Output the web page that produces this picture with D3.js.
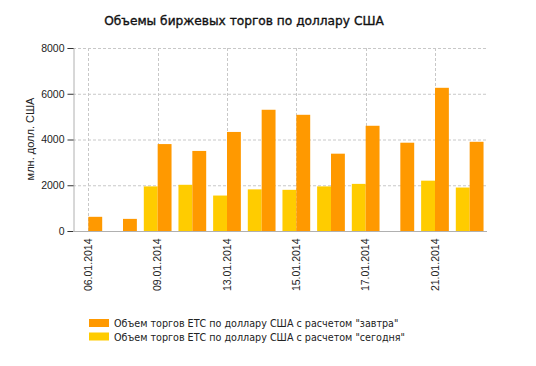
<!DOCTYPE html>
<html>
<head>
<meta charset="utf-8">
<script src="https://cdn.jsdelivr.net/npm/d3@7"></script>
<style>
  body { margin: 0; background: #fff; }
  svg { display: block; }
</style>
</head>
<body>
<svg id="chart" width="536" height="366"></svg>
<script>
// Data
const dates = ["06.01.2014", "08.01.2014", "09.01.2014", "10.01.2014", "13.01.2014", "14.01.2014",
               "15.01.2014", "16.01.2014", "17.01.2014", "20.01.2014", "21.01.2014", "22.01.2014"];
const tomorrow = [620, 530, 3800, 3500, 4330, 5300, 5080, 3380, 4600, 3860, 6260, 3900];
const today = [0, 0, 1950, 2020, 1550, 1820, 1800, 1950, 2060, 0, 2200, 1900];
const yTicks = [0, 2000, 4000, 6000, 8000];
const seriesNames = ["Объем торгов ЕТС по доллару США с расчетом \"завтра\"",
                     "Объем торгов ЕТС по доллару США с расчетом \"сегодня\""];

const orange = "#ff9900";
const yellow = "#ffcc00";

var svg = d3.select("#chart");

var x = d3.scaleBand().domain(dates).range([71, 487]).paddingInner(0.2).paddingOuter(0.1);
var y = d3.scaleLinear().domain([0, 8000]).range([231, 48]);
var half = x.bandwidth() / 2;

// title
svg.append("text")
  .attr("x", 244).attr("y", 25)
  .attr("text-anchor", "middle")
  .style("font-family", "DejaVu Sans").style("font-size", "12.2px")
  .attr("fill", "#111").attr("stroke", "#111").attr("stroke-width", 0.35)
  .text("Объемы биржевых торгов по доллару США");

// grid
svg.append("g").selectAll("line")
  .data(yTicks.slice(1))
  .enter().append("line")
  .attr("x1", 73).attr("x2", 487)
  .attr("y1", d => y(d) + 0.5).attr("y2", d => y(d) + 0.5)
  .attr("stroke", "#c8c8c8").attr("stroke-dasharray", "3,2");

svg.append("g").selectAll("line")
  .data(dates.filter((d, i) => i % 2 == 0))
  .enter().append("line")
  .attr("x1", d => Math.round(x(d) + half) + 0.5).attr("x2", d => Math.round(x(d) + half) + 0.5)
  .attr("y1", 48).attr("y2", 231)
  .attr("stroke", "#c8c8c8").attr("stroke-dasharray", "3,2");

// bars
svg.append("g").selectAll("rect")
  .data(today)
  .enter().append("rect")
  .attr("x", (d, i) => x(dates[i]))
  .attr("width", half)
  .attr("y", d => y(d))
  .attr("height", d => y(0) - y(d))
  .attr("fill", yellow);

svg.append("g").selectAll("rect")
  .data(tomorrow)
  .enter().append("rect")
  .attr("x", (d, i) => x(dates[i]) + half)
  .attr("width", half)
  .attr("y", d => y(d))
  .attr("height", d => y(0) - y(d))
  .attr("fill", orange);

// y axis
var yAxis = svg.append("g")
  .attr("transform", "translate(73.5,0)")
  .call(d3.axisLeft(y).tickValues(yTicks).tickSize(6).tickPadding(3).tickFormat(d3.format("d")));
yAxis.select(".domain").attr("stroke", "#b0b0b0");
yAxis.selectAll(".tick line").attr("stroke", "#333");
yAxis.selectAll("text")
  .style("font-family", "Liberation Sans").style("font-size", "10.5px").attr("fill", "#222");

// x axis
var xAxis = svg.append("g")
  .attr("transform", "translate(0,231.5)")
  .call(d3.axisBottom(x).tickSize(0).tickFormat((d, i) => i % 2 == 0 ? d : ""));
xAxis.select(".domain").attr("stroke", "#b0b0b0").attr("d", "M73,0H487");
xAxis.selectAll("text")
  .style("font-family", "Liberation Sans").style("font-size", "10.5px").attr("fill", "#222")
  .attr("transform", "rotate(-90)")
  .attr("text-anchor", "end")
  .attr("x", -7).attr("y", 0).attr("dy", "0.35em");

// y label
svg.append("text")
  .attr("transform", "translate(34,139) rotate(-90)")
  .attr("text-anchor", "middle")
  .style("font-family", "Liberation Sans").style("font-size", "11px").attr("fill", "#222")
  .text("млн. долл. США");

// legend
var legend = svg.append("g").selectAll("g")
  .data(seriesNames)
  .enter().append("g")
  .attr("transform", (d, i) => `translate(89,${319 + i * 13.5})`);
legend.append("rect")
  .attr("width", 20).attr("height", 8)
  .attr("fill", (d, i) => i == 0 ? orange : yellow);
legend.append("text")
  .attr("x", 25).attr("y", 8)
  .style("font-family", "DejaVu Sans").style("font-size", "9.6px").attr("fill", "#222")
  .text(d => d);
</script>
</body>
</html>
